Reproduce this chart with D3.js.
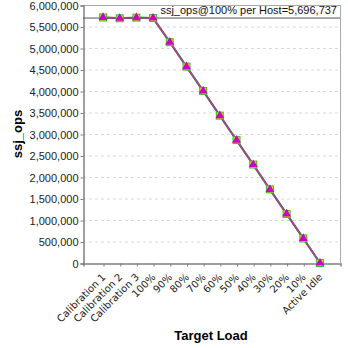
<!DOCTYPE html>
<html><head><meta charset="utf-8">
<script src="https://cdn.jsdelivr.net/npm/d3@7"></script>
<style>body{margin:0;background:#fff;}svg{display:block;}</style>
</head><body>
<script>
const categories = ["Calibration 1","Calibration 2","Calibration 3","100%","90%","80%","70%","60%","50%","40%","30%","20%","10%","Active Idle"];
const ssjOps = [5710000,5692000,5706000,5696737,5135000,4567000,4001000,3427000,2858000,2290000,1713000,1140000,571000,0];
const yTicks = [0,500000,1000000,1500000,2000000,2500000,3000000,3500000,4000000,4500000,5000000,5500000,6000000];
const refValue = 5696737;
const refLabel = "ssj_ops@100% per Host=5,696,737";

const W=348,H=348, L=83, R=340, T=5, B=263;
const svg=d3.select("body").append("svg").attr("width",W).attr("height",H);
const font="'Liberation Sans', Arial, sans-serif";
const font2="'DejaVu Sans', Verdana, sans-serif";

const x=d3.scalePoint().domain(categories).range([L,R]).padding(1.2);
const y=d3.scaleLinear().domain([0,6000000]).range([B,T]);

// grid
svg.append("g").selectAll("line").data(yTicks.filter(d=>d>0&&d<6000000)).join("line")
 .attr("x1",L).attr("x2",R).attr("y1",d=>y(d)+0.5).attr("y2",d=>y(d)+0.5)
 .attr("stroke","#d8d8d8").attr("stroke-dasharray","3,3");
// frame top/right
svg.append("line").attr("x1",L).attr("x2",R+0.5).attr("y1",T+0.5).attr("y2",T+0.5).attr("stroke","#aaaaaa");
svg.append("line").attr("x1",R+0.5).attr("x2",R+0.5).attr("y1",T).attr("y2",B).attr("stroke","#aaaaaa");

// axes
const ya=svg.append("g").attr("transform",`translate(${L+0.5},0.5)`)
 .call(d3.axisLeft(y).tickValues(yTicks).tickSize(3).tickFormat(d3.format(",")));
const xa=svg.append("g").attr("transform",`translate(0.5,${B+0.5})`)
 .call(d3.axisBottom(x).tickSize(3));
[ya,xa].forEach(a=>{a.select(".domain").attr("stroke","#808080").attr("stroke-width",1.5);
 a.selectAll(".tick line").attr("stroke","#808080");
 a.selectAll("text").attr("fill","#222").style("font-family",font).style("font-size","11px");});
ya.selectAll("text").attr("x",-5);
xa.selectAll("text").attr("text-anchor","end").attr("dy","0")
 .style("font-family",font2).style("font-size","10px")
 .attr("transform","translate(-2,10) rotate(-45)").attr("x",0).attr("y",6);

// reference line
svg.append("line").attr("x1",L).attr("x2",R).attr("y1",y(refValue)).attr("y2",y(refValue)).attr("stroke","#555").attr("stroke-width",1);
svg.append("text").attr("x",337).attr("y",y(refValue)-4).attr("text-anchor","end")
 .style("font-family",font).style("font-size","11px").attr("fill","#111").text(refLabel);

// lines
const pts=categories.map((c,i)=>[x(c),y(ssjOps[i])]);
const line=d3.line();
svg.append("path").attr("d",line(pts)).attr("fill","none").attr("stroke","#3a7a30").attr("stroke-width",2.2);
svg.append("path").attr("d",line(pts)).attr("fill","none").attr("stroke","#b03aa8").attr("stroke-width",1.4);

// markers
const mg=svg.append("g");
pts.forEach(([px,py])=>{
 mg.append("rect").attr("x",px-4).attr("y",py-4).attr("width",8).attr("height",8).attr("fill","#44bb22");
 mg.append("rect").attr("x",px-3).attr("y",py-3).attr("width",6).attr("height",6).attr("fill","#dddd00");
 mg.append("path").attr("d",d3.symbol(d3.symbolTriangle,34)()).attr("transform",`translate(${px},${py})`).attr("fill","#cc00cc");
});

// labels
svg.append("text").attr("transform",`translate(22,${(T+B)/2}) rotate(-90)`).attr("text-anchor","middle")
 .style("font-family",font).style("font-size","13px").style("font-weight","bold").text("ssj_ops");
svg.append("text").attr("x",211).attr("y",340).attr("text-anchor","middle")
 .style("font-family",font).style("font-size","13px").style("font-weight","bold").text("Target Load");
</script>
</body></html>
